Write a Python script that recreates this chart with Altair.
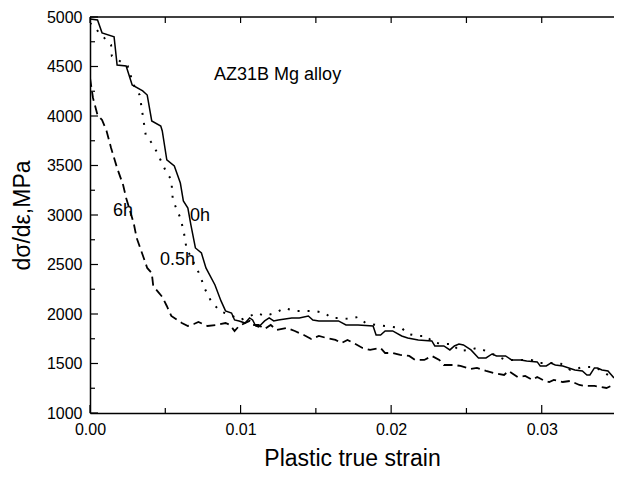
import altair as alt
import pandas as pd

# ---- data ----
strain_0h = [0.0, 0.0005, 0.0008, 0.0016, 0.0018, 0.0024, 0.0028, 0.0035, 0.0038, 0.0041,
             0.0047, 0.0048, 0.0051, 0.0056, 0.0060, 0.0062, 0.0065, 0.0067, 0.0070, 0.0074,
             0.0077, 0.0083, 0.0087, 0.0090, 0.0094, 0.0096, 0.0099, 0.0103, 0.0106, 0.0108,
             0.0110, 0.0112, 0.0116, 0.0119, 0.0122, 0.0125, 0.0134, 0.0139, 0.0145, 0.0148,
             0.0152, 0.0165, 0.0170, 0.0178, 0.0188, 0.0190, 0.0193, 0.0196, 0.0201, 0.0207,
             0.0211, 0.0218, 0.0227, 0.0229, 0.0235, 0.0239, 0.0242, 0.0245, 0.0248, 0.0253,
             0.0258, 0.0263, 0.0267, 0.0270, 0.0276, 0.0280, 0.0286, 0.0290, 0.0297, 0.0299,
             0.0303, 0.0306, 0.0309, 0.0314, 0.0322, 0.0327, 0.0330, 0.0332, 0.0335, 0.0337,
             0.0340, 0.0344, 0.0348]
value_0h = [4980, 4970, 4840, 4800, 4515, 4505, 4313, 4253, 4212, 3950,
            3899, 3849, 3556, 3495, 3323, 3142, 3070, 2900, 2667, 2616,
            2465, 2293, 2132, 2031, 2010, 1940, 1930, 1909, 1960, 1940,
            1879, 1869, 1930, 1960, 1930, 1940, 1960, 1960, 1980, 1940,
            1930, 1930, 1889, 1889, 1879, 1788, 1788, 1829, 1829, 1778,
            1758, 1738, 1728, 1677, 1677, 1637, 1677, 1697, 1687, 1637,
            1556, 1556, 1596, 1576, 1576, 1536, 1536, 1526, 1516, 1475,
            1475, 1505, 1485, 1475, 1435, 1425, 1384, 1384, 1455, 1455,
            1435, 1425, 1354]

strain_05h = [0.0, 0.0014, 0.00145, 0.0025, 0.0029, 0.0033, 0.0034, 0.0035, 0.0036, 0.0037,
              0.0041, 0.0044, 0.0050, 0.0054, 0.0055, 0.0060, 0.0062, 0.0063, 0.0064, 0.0073,
              0.0076, 0.0080, 0.0086, 0.0093, 0.0100, 0.0111, 0.0116, 0.0123, 0.0129, 0.0136,
              0.0142, 0.0149, 0.0156, 0.0160, 0.0165, 0.0172, 0.0178, 0.0183, 0.0190, 0.0196,
              0.0207, 0.0211, 0.0218, 0.0224, 0.0227, 0.0234, 0.0241, 0.0245, 0.0252, 0.0257,
              0.0263, 0.0276, 0.0288, 0.0293, 0.0299, 0.0312, 0.0319, 0.0328, 0.0335, 0.0340,
              0.0344, 0.0347]
value_05h = [4940, 4717, 4606, 4505, 4313, 4212, 4111, 4010, 3909, 3808,
             3727, 3647, 3455, 3354, 3152, 2970, 2849, 2768, 2667, 2394,
             2263, 2142, 2031, 1990, 1940, 2010, 1980, 2010, 2061, 2031,
             2031, 2031, 2010, 1960, 1960, 1950, 1970, 1909, 1889, 1879,
             1859, 1798, 1778, 1778, 1717, 1697, 1697, 1627, 1637, 1657,
             1627, 1536, 1536, 1536, 1505, 1505, 1435, 1465, 1465, 1425,
             1384, 1354]

strain_6h = [0.0, 0.0002, 0.0005, 0.0008, 0.0011, 0.0014, 0.0018, 0.0022, 0.0024, 0.0029,
             0.0031, 0.0035, 0.0038, 0.0041, 0.0042, 0.0048, 0.0051, 0.0054, 0.0061, 0.0065,
             0.0069, 0.0072, 0.0078, 0.0084, 0.0090, 0.0093, 0.0096, 0.0099, 0.0106, 0.0108,
             0.0112, 0.0116, 0.0120, 0.0124, 0.0131, 0.0136, 0.0142, 0.0147, 0.0152, 0.0157,
             0.0163, 0.0167, 0.0171, 0.0175, 0.0181, 0.0186, 0.0193, 0.0196, 0.0201, 0.0206,
             0.0212, 0.0216, 0.0222, 0.0227, 0.0232, 0.0235, 0.0242, 0.0246, 0.0253, 0.0257,
             0.0263, 0.0268, 0.0275, 0.0278, 0.0284, 0.0289, 0.0294, 0.0297, 0.0302, 0.0305,
             0.0308, 0.0314, 0.0319, 0.0325, 0.0329, 0.0335, 0.0339, 0.0343, 0.0346]
value_6h = [4384, 4182, 4010, 3960, 3849, 3677, 3475, 3303, 3172, 2919,
            2768, 2596, 2465, 2414, 2283, 2172, 2081, 1980, 1909, 1879,
            1899, 1919, 1879, 1889, 1909, 1889, 1828, 1879, 1930, 1889,
            1889, 1849, 1889, 1839, 1859, 1828, 1788, 1748, 1778, 1758,
            1738, 1707, 1738, 1707, 1657, 1637, 1657, 1606, 1606, 1586,
            1576, 1536, 1536, 1576, 1536, 1485, 1485, 1475, 1445, 1455,
            1425, 1404, 1384, 1425, 1364, 1374, 1334, 1364, 1324, 1313,
            1334, 1313, 1324, 1283, 1273, 1273, 1263, 1253, 1273]

x_major_ticks = [0.0, 0.01, 0.02, 0.03]
x_minor_ticks = [0.005, 0.015, 0.025]
y_major_ticks = [1000, 1500, 2000, 2500, 3000, 3500, 4000, 4500, 5000]
y_minor_ticks = [1250, 1750, 2250, 2750, 3250, 3750, 4250, 4750]

label_texts = ["AZ31B Mg alloy", "0h", "0.5h", "6h"]
label_x = [0.00824, 0.00664, 0.00465, 0.00153]
label_y = [4414, 2990, 2546, 3040]

# ---- chart ----
W, H = 524, 396
FONT = "Liberation Sans"

xscale = alt.Scale(domain=[0, 0.0348], nice=False, zero=False)
yscale = alt.Scale(domain=[1000, 5000], nice=False, zero=False)
xaxis = alt.Axis(values=x_major_ticks, format=".2f", ticks=False, grid=False,
                 labelPadding=8, labelFlush=False,
                 title="Plastic true strain", titlePadding=10)
yaxis = alt.Axis(values=y_major_ticks, format="d", ticks=False, grid=False,
                 labelPadding=8, labelFlush=False,
                 title="dσ/dε,MPa", titlePadding=12)


def X(field):
    return alt.X(field, type="quantitative", scale=xscale, axis=xaxis)


def Y(field):
    return alt.Y(field, type="quantitative", scale=yscale, axis=yaxis)


def series_df(xs, ys):
    return pd.DataFrame({"strain": xs, "value": ys})


line_0h = alt.Chart(series_df(strain_0h, value_0h)).mark_line(
    color="black", strokeWidth=1.5, clip=True
).encode(x=X("strain"), y=Y("value"))

line_05h = alt.Chart(series_df(strain_05h, value_05h)).mark_line(
    color="black", strokeWidth=2, strokeDash=[2, 8], clip=True
).encode(x=X("strain"), y=Y("value"))

line_6h = alt.Chart(series_df(strain_6h, value_6h)).mark_line(
    color="black", strokeWidth=1.8, strokeDash=[9, 5], clip=True
).encode(x=X("strain"), y=Y("value"))

labels = alt.Chart(pd.DataFrame({"strain": label_x, "value": label_y, "t": label_texts})).mark_text(
    align="left", baseline="middle", font=FONT, fontSize=18, color="black"
).encode(x=X("strain"), y=Y("value"), text="t:N")

xmaj = pd.DataFrame({"strain": x_major_ticks})
xmin = pd.DataFrame({"strain": x_minor_ticks})
ymaj = pd.DataFrame({"value": y_major_ticks})
ymin = pd.DataFrame({"value": y_minor_ticks})

bx_major = alt.Chart(xmaj).mark_rule(color="black", strokeWidth=1.2).encode(
    x=X("strain"), y=alt.value(H), y2=alt.value(H - 8))
bx_minor = alt.Chart(xmin).mark_rule(color="black", strokeWidth=1.2).encode(
    x=X("strain"), y=alt.value(H), y2=alt.value(H - 5))
tx_major = alt.Chart(xmaj).mark_rule(color="black", strokeWidth=1.2).encode(
    x=X("strain"), y=alt.value(0), y2=alt.value(6))
tx_minor = alt.Chart(xmin).mark_rule(color="black", strokeWidth=1.2).encode(
    x=X("strain"), y=alt.value(0), y2=alt.value(6))
ly_major = alt.Chart(ymaj).mark_rule(color="black", strokeWidth=1.2).encode(
    y=Y("value"), x=alt.value(0), x2=alt.value(8))
ly_minor = alt.Chart(ymin).mark_rule(color="black", strokeWidth=1.2).encode(
    y=Y("value"), x=alt.value(0), x2=alt.value(5))

top_border = alt.Chart(pd.DataFrame({"value": [5000]})).mark_rule(
    color="black", strokeWidth=1.5
).encode(y=Y("value"))

chart = alt.layer(
    top_border, bx_major, bx_minor, tx_major, tx_minor, ly_major, ly_minor,
    line_6h, line_05h, line_0h, labels
).properties(
    width=W, height=H,
    autosize=alt.AutoSizeParams(type="none"),
    padding={"left": 82, "top": 9, "right": 0, "bottom": 56},
    background="white",
).configure_view(
    stroke=None
).configure_axis(
    domainColor="black", domainWidth=1.5,
    labelFont=FONT, labelFontSize=16, labelColor="black",
    titleFont=FONT, titleFontSize=23, titleFontWeight="normal", titleColor="black",
)

chart.save("out.html", embed_options={"renderer": "svg", "actions": False})
